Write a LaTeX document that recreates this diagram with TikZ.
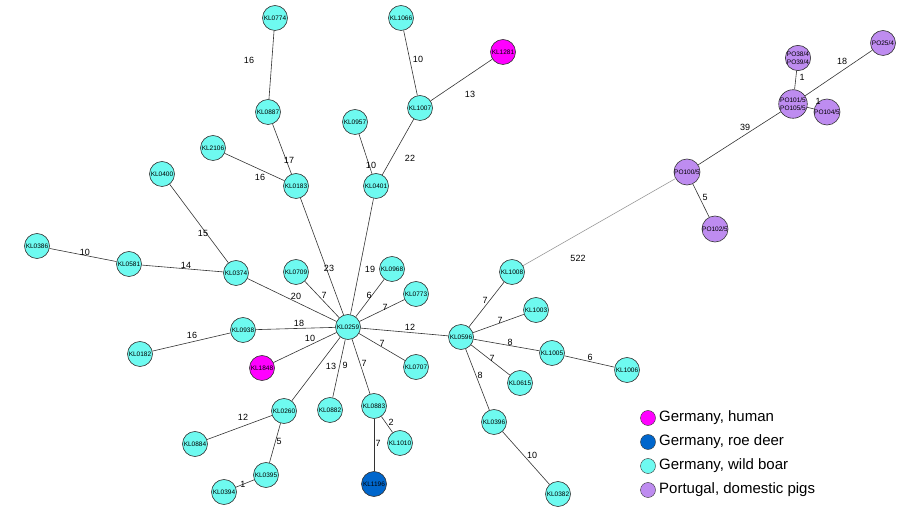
\documentclass[tikz,border=0pt]{standalone}
\usepackage{fontspec}
\setmainfont{Liberation Sans}
\definecolor{cy}{RGB}{110,250,240}
\definecolor{mg}{RGB}{255,0,255}
\definecolor{bl}{RGB}{0,102,204}
\definecolor{pu}{RGB}{190,140,240}
\begin{document}
\begin{tikzpicture}[x=1pt,y=-1pt,
 nd/.style={circle,draw=black!80,line width=0.6pt,minimum size=25pt,inner sep=0pt,font=\fontsize{6.5}{7}\selectfont},
 w/.style={nd,fill=cy}, h/.style={nd,fill=mg}, r/.style={nd,fill=bl}, p/.style={nd,fill=pu},
 el/.style={font=\fontsize{9}{10}\selectfont,inner sep=1pt},
 ed/.style={draw=black!80,line width=0.6pt},
 lg/.style={circle,draw=black!80,minimum size=15pt,inner sep=0pt},
 lt/.style={anchor=west,font=\fontsize{15}{16}\selectfont,inner sep=0pt}]
\useasboundingbox (0,0) rectangle (900,518);
\foreach \n/\x/\y/\s in {KL0774/275/18/w,KL1066/401/18/w,KL1281/503/52/h,KL0887/268/112/w,KL0957/355/122/w,KL1007/420/108/w,KL2106/213/148/w,KL0183/296/186/w,KL0401/376/186/w,KL0400/162/174/w,KL0386/37/246/w,KL0581/129/264/w,KL0374/236/273/w,KL0709/296/272/w,KL0968/392/269/w,KL0773/416/294/w,KL0259/348/327/w,KL0938/243/330/w,KL0182/140/354/w,KL1848/262/368/h,KL0707/416/367/w,KL0260/284/411/w,KL0882/330/410/w,KL0883/374/406/w,KL1010/400/443/w,KL0884/195/444/w,KL0395/266/475/w,KL0394/224/492/w,KL1196/374/484/r,KL1008/512/272/w,KL1003/536/310/w,KL0596/461/337/w,KL1005/552/353/w,KL1006/627/370/w,KL0615/520/383/w,KL0396/494/422/w,KL0382/558/494/w}
  \node[\s] (\n) at (\x,\y) {\n};
\node[p] (P38) at (798,58) {\shortstack{PO38/4\\PO39/4}};
\node[p] (P25) at (883,43) {PO25/4};
\node[p] (P101) at (793,104) {\shortstack{PO101/5\\PO105/5}};
\node[p] (P104) at (827,112) {PO104/5};
\node[p] (P100) at (687,172) {PO100/5};
\node[p] (P102) at (715,229) {PO102/5};
\foreach \a/\b/\l/\lx/\ly in {KL0774/KL0887/16/249/60,KL1066/KL1007/10/418/59,KL1281/KL1007/13/470/94,KL0887/KL0183/17/289/160,KL2106/KL0183/16/260/177,KL0957/KL0401/10/371/165,KL1007/KL0401/22/410/158,KL0400/KL0374/15/203/233,KL0386/KL0581/10/85/252,KL0581/KL0374/14/186/265,KL0183/KL0259/23/329/268,KL0401/KL0259/19/370/269,KL0374/KL0259/20/296/296,KL0709/KL0259/7/324/295,KL0968/KL0259/6/369/295,KL0773/KL0259/7/385/307,KL0938/KL0259/18/299/323,KL0182/KL0938/16/192/335,KL1848/KL0259/10/310/338,KL0707/KL0259/7/382/343,KL0260/KL0259/13/331/366,KL0882/KL0259/9/345/365,KL0883/KL0259/7/364/363,KL0259/KL0596/12/410/327,KL0884/KL0260/12/243/417,KL0260/KL0395/5/279/441,KL0394/KL0395/1/243/484,KL0883/KL1010/2/391/422,KL0883/KL1196/7/378/443,KL0596/KL1008/7/485/300,KL0596/KL1003/7/500/320,KL0596/KL1005/8/510/342,KL1005/KL1006/6/590/357,KL0596/KL0615/7/492/358,KL0596/KL0396/8/480/375,KL0396/KL0382/10/532/455,P100/P101/39/745/127,P100/P102/5/705/197,P101/P38/1/802/77,P101/P25/18/842/61,P101/P104/1/818/101}
  {\draw[ed] (\a) -- (\b); \node[el] at (\lx,\ly) {\l};}
\draw[black!40,line width=0.6pt] (KL1008) -- (P100);
\node[el] at (578,258) {522};
\node[lg,fill=mg] (g1) at (648,418) {}; \node[lt] at (659,418) {Germany, human};
\node[lg,fill=bl] (g2) at (648,442) {}; \node[lt] at (659,442) {Germany, roe deer};
\node[lg,fill=cy] (g3) at (648,466) {}; \node[lt] at (659,466) {Germany, wild boar};
\node[lg,fill=pu] (g4) at (648,490) {}; \node[lt] at (659,490) {Portugal, domestic pigs};
\end{tikzpicture}
\end{document}
